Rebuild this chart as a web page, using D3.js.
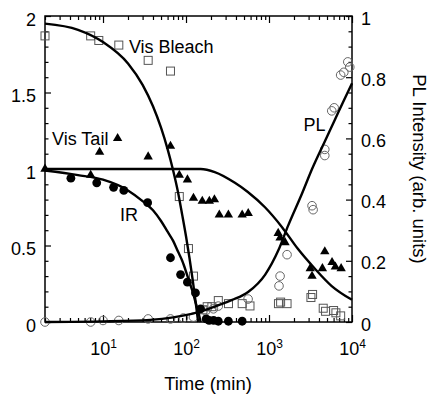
<!DOCTYPE html>
<html><head><meta charset="utf-8">
<script src="https://cdn.jsdelivr.net/npm/d3@7"></script>
<style>body{margin:0;background:#fff}svg{display:block}text{font-family:"Liberation Sans",Arial,Helvetica,sans-serif}</style>
</head><body><svg id="c" width="430" height="394"></svg>
<script>
// ---- data ----
const bleachT = [2, 7.1, 8.9, 15.5, 35, 65, 83, 107, 123, 160, 180, 205, 245, 325, 475, 590, 1300, 1380, 1650, 3200, 3350, 4500, 4800, 6000, 6400, 7300];
const bleachV = [1.87, 1.87, 1.84, 1.81, 1.71, 1.64, 0.82, 0.48, 0.30, 0.08, 0.10, 0.10, 0.14, 0.12, 0.12, 0.105, 0.12, 0.13, 0.12, 0.16, 0.18, 0.09, 0.07, 0.075, 0.06, 0.04];
const tailT = [2, 7.1, 9.1, 15, 35, 65, 83, 104, 123, 157, 191, 220, 252, 324, 475, 562, 1290, 1360, 1560, 3140, 3300, 4400, 4700, 5750, 6300, 7400];
const tailV = [1.0, 0.96, 1.11, 1.20, 1.08, 1.15, 0.96, 0.93, 0.81, 0.79, 0.79, 0.80, 0.70, 0.70, 0.70, 0.71, 0.58, 0.55, 0.52, 0.35, 0.30, 0.35, 0.46, 0.39, 0.36, 0.35];
const irT = [4.1, 8.4, 13.4, 17.8, 34.5, 65, 86, 104, 130, 150, 175, 190, 215, 245, 324, 475];
const irV = [0.94, 0.91, 0.88, 0.86, 0.78, 0.42, 0.31, 0.26, 0.19, 0.085, 0.02, 0.01, 0.01, 0.005, 0.005, 0.005];
const plT = [2, 7.1, 10, 15.5, 35, 65, 93, 123, 172, 214, 245, 560, 1320, 1360, 1650, 3300, 3400, 4700, 4700, 5700, 6100, 7300, 7970, 8900, 9400];
const plV = [0.0, 0.0, 0.005, 0.005, 0.01, 0.01, 0.013, 0.016, 0.036, 0.043, 0.052, 0.075, 0.118, 0.15, 0.22, 0.38, 0.367, 0.564, 0.544, 0.69, 0.70, 0.807, 0.816, 0.85, 0.833];

// fitted curves
const fitBleachT = [2, 5, 10, 20, 30, 40, 50, 60, 70, 80, 90, 100, 110, 120, 130, 140];
const fitBleachV = [1.95, 1.91, 1.83, 1.69, 1.55, 1.41, 1.27, 1.13, 0.99, 0.85, 0.70, 0.56, 0.42, 0.28, 0.14, 0.0];
const fitTailT = [2, 150, 222, 388, 556, 894, 1436, 2214, 3552, 5700, 10000];
const fitTailV = [1.0, 1.0, 0.98, 0.91, 0.85, 0.75, 0.62, 0.48, 0.35, 0.235, 0.145];
const fitIrT = [2, 5, 10, 20, 30, 40, 50, 60, 70, 80, 90, 100, 110, 120, 130, 140, 150];
const fitIrV = [0.99, 0.96, 0.93, 0.86, 0.79, 0.73, 0.66, 0.59, 0.53, 0.46, 0.40, 0.33, 0.26, 0.20, 0.13, 0.07, 0.0];
const fitPlT = [2, 10, 37, 70, 140, 230, 360, 560, 900, 1300, 1700, 2500, 3300, 4700, 6200, 8000, 10000];
const fitPlV = [0.0, 0.002, 0.007, 0.015, 0.032, 0.052, 0.072, 0.098, 0.155, 0.235, 0.315, 0.42, 0.50, 0.59, 0.66, 0.725, 0.78];

// ticks
const xMajor = [10, 100, 1000, 10000];
const xExp = ["1", "2", "3", "4"];
const yLeftTicks = [0, 0.5, 1, 1.5, 2];
const yLeftLabels = ["0", "0.5", "1", "1.5", "2"];
const yRightTicks = [0, 0.2, 0.4, 0.6, 0.8, 1];
const yRightLabels = ["0", "0.2", "0.4", "0.6", "0.8", "1"];

const labels = [
  {text: "Vis Bleach", t: 20.5, v: 1.76},
  {text: "Vis Tail", t: 2.43, v: 1.16},
  {text: "IR", t: 16, v: 0.66},
  {text: "PL", t: 2600, v: 1.25}
];

// ---- drawing ----
const L = 45, R = 352, T = 16, B = 322, FS = 18;
const FF = '"Liberation Sans", Arial, Helvetica, sans-serif';
const svg = d3.select("#c");
const x = d3.scaleLog().domain([2, 10000]).range([L, R]);
const yL = d3.scaleLinear().domain([0, 2]).range([B, T]);
const yR = d3.scaleLinear().domain([0, 1]).range([B, T]);

const xMinor = [];
for (let k = 0; k < 4; k++) for (let n = 2; n < 10; n++) { const v = n * Math.pow(10, k); if (v >= 2 && v <= 10000) xMinor.push(v); }
const yLMinor = d3.range(0, 21).map(i => i / 10).filter(v => Math.abs(v * 2 - Math.round(v * 2)) > 1e-6);
const yRMinor = d3.range(0, 21).map(i => i / 20).filter(v => Math.abs(v * 5 - Math.round(v * 5)) > 1e-6);

function style(g) {
  g.select(".domain").remove();
  g.selectAll("line").attr("stroke", "#000").attr("stroke-width", 1.2);
  g.attr("font-size", FS).attr("font-family", FF);
  g.selectAll("text").attr("fill", "#000");
}
// bottom
svg.append("g").attr("transform", `translate(0,${B})`).call(d3.axisBottom(x).tickValues(xMinor).tickSize(-4).tickFormat("")).call(style);
const xb = svg.append("g").attr("transform", `translate(0,${B})`)
  .call(d3.axisBottom(x).tickValues(xMajor).tickSize(-7).tickPadding(20).tickFormat(d => "")).call(style);
xb.selectAll(".tick text").each(function (d, i) {
  const t = d3.select(this);
  t.append("tspan").text("10");
  t.append("tspan").attr("font-size", 12).attr("dy", -7).text(xExp[i]);
});
// top
svg.append("g").attr("transform", `translate(0,${T})`).call(d3.axisTop(x).tickValues(xMinor).tickSize(-4).tickFormat("")).call(style);
svg.append("g").attr("transform", `translate(0,${T})`).call(d3.axisTop(x).tickValues(xMajor).tickSize(-7).tickFormat("")).call(style);
// left
svg.append("g").attr("transform", `translate(${L},0)`).call(d3.axisLeft(yL).tickValues(yLMinor).tickSize(-3.5).tickFormat("")).call(style);
svg.append("g").attr("transform", `translate(${L},0)`)
  .call(d3.axisLeft(yL).tickValues(yLeftTicks).tickSize(-6).tickPadding(9).tickFormat((d, i) => yLeftLabels[i])).call(style)
  .selectAll(".tick text").attr("dy", "0.5em");
// right
svg.append("g").attr("transform", `translate(${R},0)`).call(d3.axisRight(yR).tickValues(yRMinor).tickSize(-3.5).tickFormat("")).call(style);
svg.append("g").attr("transform", `translate(${R},0)`)
  .call(d3.axisRight(yR).tickValues(yRightTicks).tickSize(-6).tickPadding(9).tickFormat((d, i) => yRightLabels[i])).call(style)
  .selectAll(".tick text").attr("dy", "0.45em");

// frame
svg.append("rect").attr("x", L).attr("y", T).attr("width", R - L).attr("height", B - T)
  .attr("fill", "none").attr("stroke", "#000").attr("stroke-width", 1.5);

// markers
const sq = 8;
svg.append("g").selectAll("rect").data(bleachT.map((t, i) => [t, bleachV[i]])).join("rect")
  .attr("x", d => x(d[0]) - sq / 2).attr("y", d => yL(d[1]) - sq / 2).attr("width", sq).attr("height", sq)
  .attr("fill", "none").attr("stroke", "#555").attr("stroke-width", 1);
svg.append("g").selectAll("circle").data(plT.map((t, i) => [t, plV[i]])).join("circle")
  .attr("cx", d => x(d[0])).attr("cy", d => yR(d[1])).attr("r", 4.3)
  .attr("fill", "none").attr("stroke", "#666").attr("stroke-width", 1);
const tri = d3.symbol().type(d3.symbolTriangle).size(38);
svg.append("g").selectAll("path").data(tailT.map((t, i) => [t, tailV[i]])).join("path")
  .attr("transform", d => `translate(${x(d[0])},${yL(d[1])})`).attr("d", tri).attr("fill", "#000");
svg.append("g").selectAll("circle").data(irT.map((t, i) => [t, irV[i]])).join("circle")
  .attr("cx", d => x(d[0])).attr("cy", d => yL(d[1])).attr("r", 4.4).attr("fill", "#000");

// curves
function curve(ts, vs, y) {
  const line = d3.line().x(d => x(d[0])).y(d => y(d[1])).curve(d3.curveMonotoneX);
  svg.append("path").attr("d", line(ts.map((t, i) => [t, vs[i]])))
    .attr("fill", "none").attr("stroke", "#000").attr("stroke-width", 2.4);
}
curve(fitBleachT, fitBleachV, yL);
curve(fitTailT, fitTailV, yL);
curve(fitIrT, fitIrV, yL);
curve(fitPlT, fitPlV, yR);

// labels
svg.append("g").selectAll("text").data(labels).join("text")
  .attr("x", d => x(d.t)).attr("y", d => yL(d.v)).attr("font-size", FS).attr("fill", "#000").text(d => d.text);

// axis titles
svg.append("text").attr("x", 208).attr("y", 390).attr("text-anchor", "middle").attr("font-size", 18.5).text("Time (min)");
svg.append("text").attr("transform", "translate(413,169) rotate(90)").attr("text-anchor", "middle").attr("font-size", 18.5).text("PL Intensity (arb. units)");
</script></body></html>
